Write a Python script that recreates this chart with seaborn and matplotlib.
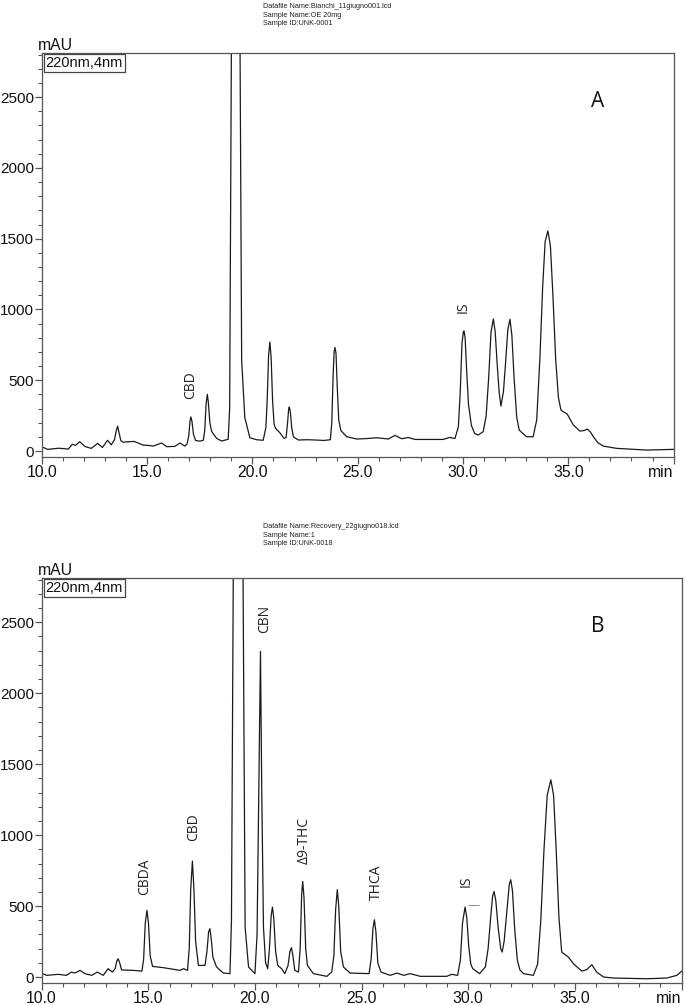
import numpy as np
import pandas as pd
import matplotlib
matplotlib.use("Agg")
import matplotlib.pyplot as plt
import seaborn as sns

# ---------------- data ----------------
time_a = [10.00, 10.28, 10.80, 11.26, 11.45, 11.60, 11.80, 12.05, 12.35, 12.65, 12.88, 13.12, 13.30,
          13.45, 13.53, 13.60, 13.67, 13.75, 13.85, 14.10, 14.38, 14.60, 14.82, 15.05, 15.29, 15.69,
          15.93, 16.32, 16.56, 16.79,
          16.90, 16.98, 17.04, 17.08, 17.13, 17.20, 17.30, 17.50, 17.67, 17.74, 17.80, 17.86, 17.91,
          17.98, 18.06, 18.15, 18.30, 18.54, 18.85,
          18.92, 19.20, 19.49, 19.64, 19.88, 20.20, 20.51, 20.64, 20.70, 20.77, 20.83, 20.89, 20.96,
          21.03, 21.10, 21.30, 21.50, 21.60, 21.67, 21.72, 21.75, 21.80, 21.87, 21.95, 22.18, 22.60,
          23.00, 23.40, 23.70, 23.77, 23.83, 23.88, 23.92, 23.97, 24.03, 24.10, 24.20, 24.48, 24.96,
          25.40, 25.90, 26.46, 26.77, 27.09, 27.40, 27.72, 28.50, 29.06, 29.35, 29.62, 29.78, 29.87,
          29.95, 30.02, 30.05, 30.10, 30.17, 30.26, 30.40, 30.55, 30.72, 30.96, 31.10, 31.22, 31.33,
          31.44, 31.53, 31.62, 31.72, 31.80, 31.92, 32.02, 32.13, 32.23, 32.32, 32.42, 32.55, 32.67,
          33.02, 33.33, 33.50, 33.65, 33.78, 33.90, 34.03, 34.15, 34.27, 34.40, 34.53, 34.65, 34.76,
          34.95, 35.24, 35.55, 35.75, 35.90, 36.05, 36.19, 36.40, 36.66, 37.30, 38.72, 40.00]
mau_a = [30, 12, 20, 14, 48, 40, 66, 32, 19, 54, 25, 76, 44,
         80, 140, 176, 130, 75, 62, 66, 68, 55, 42, 40, 35, 57,
         31, 33, 57, 35,
         50, 110, 215, 241, 210, 120, 75, 70, 76, 150, 330, 401, 340,
         200, 142, 120, 90, 71, 83,
         300, 9000, 640, 236, 94, 80, 76, 165, 350, 680, 770, 660, 350,
         190, 160, 130, 90, 95, 200, 295, 311, 280, 160, 100, 78, 80,
         78, 75, 80, 200, 520, 700, 732, 690, 450, 220, 145, 101, 85,
         88, 94, 85, 111, 87, 96, 82, 82, 82, 96, 89, 172, 420,
         760, 845, 848, 800, 580, 330, 180, 125, 113, 137, 250, 520, 840,
         933, 840, 620, 410, 318, 420, 620, 860, 931, 820, 530, 240, 148,
         101, 101, 220, 650, 1150, 1480, 1555, 1450, 1100, 650, 380, 290, 278,
         261, 184, 141, 145, 155, 135, 101, 60, 35, 19, 7, 12]

time_b = [10.00, 10.23, 10.78, 11.16, 11.40, 11.56, 11.80, 12.03, 12.35, 12.61, 12.89, 13.12, 13.32,
          13.45, 13.52, 13.59, 13.66, 13.75, 14.30, 14.70, 14.78, 14.86, 14.94, 15.01, 15.09, 15.20,
          15.71, 16.49, 16.65, 16.84, 16.92, 16.99, 17.07, 17.14, 17.22, 17.35, 17.66, 17.75, 17.83,
          17.89, 17.95, 18.03, 18.20, 18.52, 18.83, 18.90, 19.20, 19.54, 19.70, 20.00, 20.10, 20.18,
          20.26, 20.32, 20.40, 20.50, 20.60, 20.68, 20.76, 20.82, 20.88, 20.97, 21.07, 21.25, 21.40,
          21.55, 21.64, 21.71, 21.78, 21.87, 22.04, 22.12, 22.19, 22.24, 22.30, 22.38, 22.46, 22.74,
          23.37, 23.60, 23.70, 23.78, 23.86, 23.93, 24.02, 24.15, 24.46, 25.35, 25.45, 25.53, 25.60,
          25.67, 25.76, 25.91, 26.34, 26.65, 26.97, 27.28, 27.75, 28.99, 29.22, 29.50, 29.63, 29.73,
          29.85, 29.93, 30.02, 30.12, 30.21, 30.53, 30.80, 30.93, 31.05, 31.14, 31.21, 31.29, 31.40,
          31.52, 31.59, 31.68, 31.80, 31.92, 31.99, 32.07, 32.18, 32.30, 32.42, 32.59, 33.05, 33.25,
          33.40, 33.55, 33.70, 33.87, 34.00, 34.12, 34.25, 34.38, 34.69, 34.93, 35.32, 35.55, 35.79,
          36.02, 36.34, 36.81, 38.37, 39.31, 39.78, 40.00]
mau_b = [28, 12, 19, 12, 35, 28, 47, 24, 12, 35, 12, 59, 35,
         60, 110, 129, 100, 50, 47, 42, 120, 380, 470, 380, 150, 75,
         66, 47, 59, 47, 200, 620, 817, 620, 250, 82, 82, 180, 320,
         341, 270, 140, 71, 28, 24, 400, 9000, 352, 71, 24, 300, 1300,
         2295, 1300, 350, 100, 59, 200, 430, 493, 420, 180, 82, 59, 24,
         80, 180, 207, 150, 47, 35, 200, 580, 674, 560, 200, 82, 24,
         5, 35, 150, 470, 615, 500, 180, 71, 28, 24, 130, 340, 404,
         320, 100, 35, 12, 28, 12, 24, 5, 5, 19, 12, 120, 380,
         493, 420, 220, 90, 59, 24, 71, 200, 420, 570, 603, 540, 350,
         200, 176, 250, 450, 650, 686, 610, 330, 120, 50, 24, 12, 90,
         400, 900, 1280, 1390, 1280, 900, 420, 176, 141, 94, 42, 52, 87,
         35, 0, -7, -12, -7, 12, 42]

# peak labels: (text, retention time, label base in mAU)
labels_a = ["CBD", "IS"]
label_t_a = [17.05, 30.0]
label_v_a = [370, 975]

labels_b = ["CBDA", "CBD", "CBN", "\u03949-THC", "THCA", "IS"]
label_t_b = [14.85, 17.11, 20.47, 22.30, 25.71, 29.90]
label_v_b = [575, 962, 2427, 800, 540, 631]

header_a = ["Datafile Name:Bianchi_11giugno001.lcd", "Sample Name:OE 20mg", "Sample ID:UNK-0001"]
header_b = ["Datafile Name:Recovery_22giugno018.lcd", "Sample Name:1", "Sample ID:UNK-0018"]

x_major = [10, 15, 20, 25, 30, 35, 40]
x_labels = ["10.0", "15.0", "20.0", "25.0", "30.0", "35.0", "min"]
y_major = [0, 500, 1000, 1500, 2000, 2500]

# ---------------- styling ----------------
sns.set_theme(style="white")
plt.rcParams["font.family"] = ["Liberation Sans", "DejaVu Sans"]
plt.rcParams["axes.edgecolor"] = "#555555"
plt.rcParams["axes.linewidth"] = 0.9

W, H = 685, 1005
fig = plt.figure(figsize=(W / 100, H / 100), dpi=100)
fig.patch.set_facecolor("white")

def px_axes(left, right, top, bottom):
    return fig.add_axes([left / W, 1 - bottom / H, (right - left) / W, (bottom - top) / H])

ax_a = px_axes(41.8, 673.6, 53, 457)
ax_b = px_axes(41.6, 681.6, 578, 983)

ann_font = ["Open Sans", "DejaVu Sans"]

def draw_panel(ax, t, v, labels, lt, lv, letter, letter_t, header, header_y):
    df = pd.DataFrame({"t": t, "mAU": v})
    sns.lineplot(data=df, x="t", y="mAU", ax=ax, color="#1a1a1a", linewidth=0.9,
                 estimator=None, sort=False)
    ax.set_xlim(10, 40)
    ax.set_ylim(-42, 2812)
    ax.set_xlabel("")
    ax.set_ylabel("")
    ax.set_xticks(x_major)
    ax.set_xticklabels(x_labels)
    ax.xaxis.get_ticklabels()[-1].set_horizontalalignment("right")
    ax.set_xticks(np.arange(10, 41, 1), minor=True)
    ax.set_yticks(y_major)
    ax.set_yticklabels([str(y) for y in y_major])
    ax.set_yticks(np.arange(0, 2801, 100), minor=True)
    ax.tick_params(axis="x", which="major", direction="out", length=5, width=0.9,
                   color="#555555", labelsize=11.3, labelcolor="#111111", pad=1, bottom=True)
    ax.tick_params(axis="y", which="major", direction="out", length=5, width=0.9,
                   color="#555555", labelsize=11, labelcolor="#111111", pad=0.5, left=True)
    ax.tick_params(axis="both", which="minor", direction="out", length=3, width=0.8,
                   color="#555555", left=True, bottom=True)
    for s in ax.spines.values():
        s.set_visible(True)
    ax.grid(False)
    ax.text(-0.006, 1.0, "mAU", transform=ax.transAxes, ha="left", va="bottom",
            fontsize=11.3, color="#111111")
    ax.text(0.006, 0.993, "220nm,4nm", transform=ax.transAxes, ha="left", va="top",
            fontsize=10.5, color="#111111",
            bbox=dict(boxstyle="square,pad=0.12", fc="white", ec="#444444", lw=0.9))
    for txt, x, y in zip(labels, lt, lv):
        ax.text(x, y, txt, rotation=90, ha="center", va="bottom", fontsize=10,
                family=ann_font, color="#222222")
    ax.text(letter_t, 2470, letter, ha="center", va="center", fontsize=15,
            family=ann_font, color="#111111")
    for i, line in enumerate(header):
        fig.text(263 / W, 1 - (header_y + 8.3 * i) / H, line, ha="left", va="center",
                 fontsize=5.2, color="#222222")

draw_panel(ax_a, time_a, mau_a, labels_a, label_t_a, label_v_a, "A", 36.41, header_a, 7)
draw_panel(ax_b, time_b, mau_b, labels_b, label_t_b, label_v_b, "B", 36.09, header_b, 527)

# small dash next to the IS label in panel B
ax_b.hlines(505, 30.0, 30.5, color="#888888", linewidth=0.7)

fig.savefig("out.png", dpi=100, facecolor="white")
